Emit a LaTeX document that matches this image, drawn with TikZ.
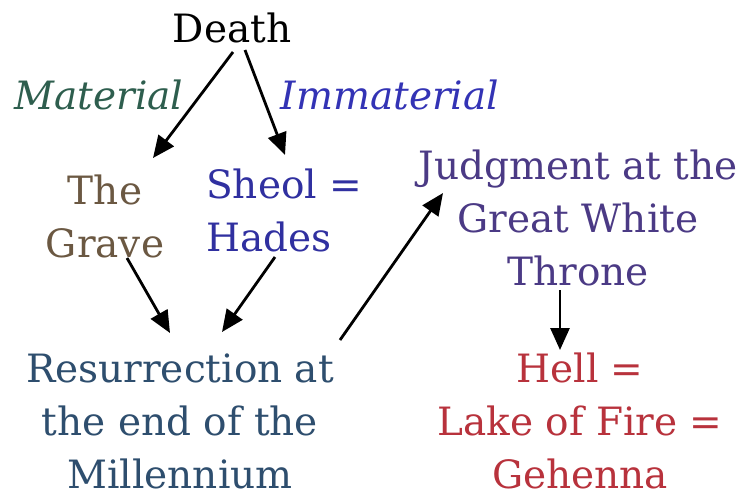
\documentclass[tikz,border=0pt]{standalone}
\usepackage{fontspec}
\setmainfont{DejaVu Serif}
\usetikzlibrary{arrows.meta}
\definecolor{cmat}{HTML}{2E5E4E}
\definecolor{cimm}{HTML}{3333B5}
\definecolor{cgrave}{HTML}{6B5842}
\definecolor{csheol}{HTML}{3030A0}
\definecolor{cjudg}{HTML}{4B3A85}
\definecolor{cres}{HTML}{2E4E6E}
\definecolor{chell}{HTML}{B8323C}
\tikzset{
  lbl/.style={align=center, inner sep=0pt, font=\fontsize{39}{53}\selectfont},
  arr/.style={line width=2.8pt, -{Triangle[length=22pt,width=19pt]}}
}
\begin{document}
\begin{tikzpicture}[x=1pt,y=-1pt]
\useasboundingbox[fill=white] (0,0) rectangle (749,499);
\node[lbl] (death) at (232,28) {Death};
\node[lbl, text=cmat, font=\fontsize{39}{53}\selectfont\itshape] (mat) at (99,95) {Material};
\node[lbl, text=cimm, font=\fontsize{39}{53}\selectfont\itshape] (immat) at (390,95) {Immaterial};
\node[lbl, text=cgrave] (grave) at (105,216) {The\\Grave};
\node[lbl, text=csheol, align=left, anchor=west] (sheol) at (206,210) {Sheol =\\Hades};
\node[lbl, text=cjudg] (judg) at (578,218) {Judgment at the\\Great White\\Throne};
\node[lbl, text=cres] (res) at (180,421) {Resurrection at\\the end of the\\Millennium};
\node[lbl, text=chell] (hell) at (580,421) {Hell =\\Lake of Fire =\\Gehenna};
\draw[arr] ([shift={(1,24)}]death.center) -- ([shift={(48,-58)}]grave.center);
\draw[arr] ([shift={(13,22)}]death.center) -- ([shift={(79,-55)}]sheol.west);
\draw[arr] ([shift={(22,42)}]grave.center) -- ([shift={(-10,-88)}]res.center);
\draw[arr] ([shift={(69,47)}]sheol.west) -- ([shift={(42,-89)}]res.center);
\draw[arr] ([shift={(160,-81)}]res.center) -- ([shift={(-135,-25)}]judg.center);
\draw[arr] ([shift={(-18,72)}]judg.center) -- ([shift={(-20,-71)}]hell.center);
\end{tikzpicture}
\end{document}
